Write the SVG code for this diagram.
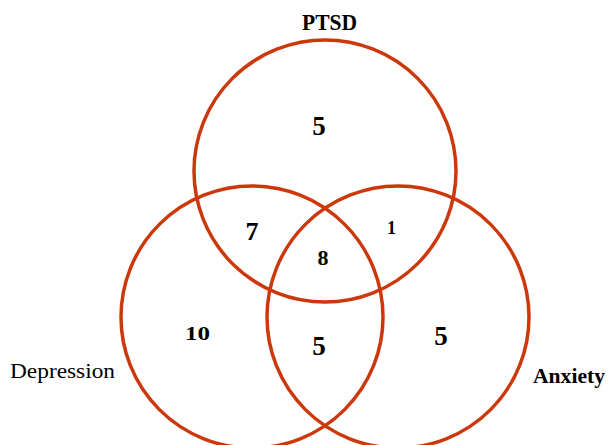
<svg xmlns="http://www.w3.org/2000/svg" width="608" height="445" viewBox="0 0 608 445">
<style>
.c{fill:none;stroke:#cc380c;stroke-width:3.5}
.lbl{font-family:"Liberation Serif","Times New Roman",serif;fill:#000}
.n{font-family:"Liberation Serif","Times New Roman",serif;font-weight:bold;fill:#000;text-anchor:middle}
</style>
<rect width="608" height="445" fill="#fff"/>
<g id="ptsd">
<circle class="c" cx="325" cy="171" r="131"/>
<text class="lbl" x="302" y="30" font-size="23" font-weight="bold" textLength="55" lengthAdjust="spacingAndGlyphs">PTSD</text>
</g>
<g id="depression">
<circle class="c" cx="252" cy="317" r="131"/>
<text class="lbl" x="10" y="378" font-size="21" textLength="105" lengthAdjust="spacingAndGlyphs">Depression</text>
</g>
<g id="anxiety">
<circle class="c" cx="398" cy="317" r="131"/>
<text class="lbl" x="533" y="383" font-size="21" font-weight="bold" textLength="72" lengthAdjust="spacingAndGlyphs">Anxiety</text>
</g>
<g id="counts">
<text class="n" x="319" y="135" font-size="27">5</text>
<text class="n" x="252" y="240" font-size="26">7</text>
<text class="n" x="391.5" y="234" font-size="18">1</text>
<text class="n" x="323" y="265" font-size="22">8</text>
<text class="n" x="197.5" y="340" font-size="19" textLength="25" lengthAdjust="spacingAndGlyphs">10</text>
<text class="n" x="319" y="355" font-size="27">5</text>
<text class="n" x="441" y="345" font-size="27">5</text>
</g>
</svg>
